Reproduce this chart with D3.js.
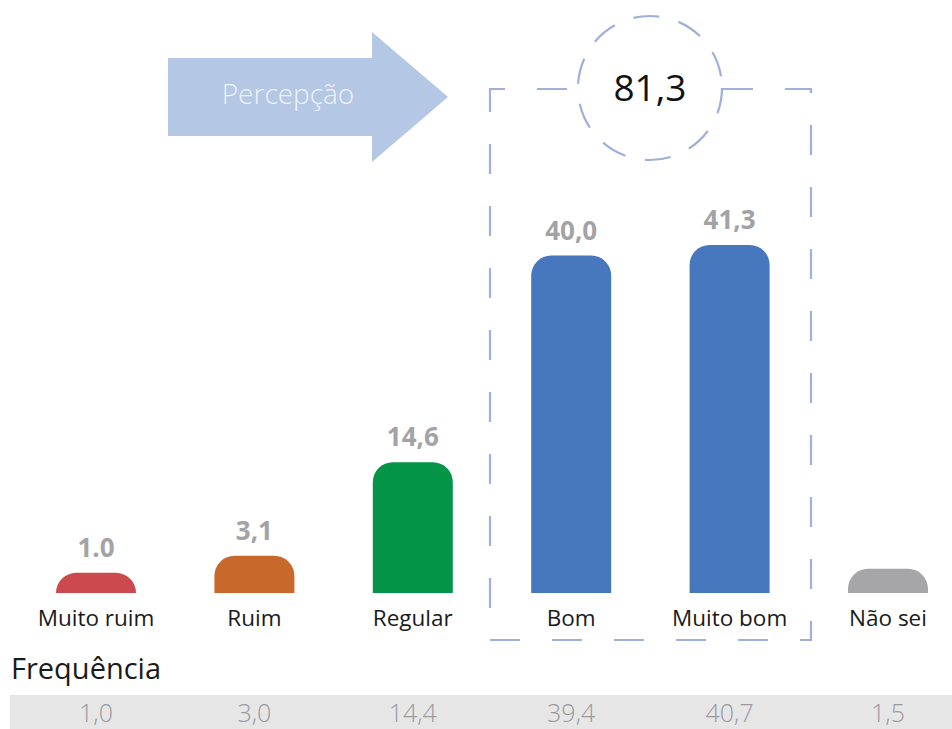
<!DOCTYPE html>
<html><head><meta charset="utf-8">
<script src="https://cdn.jsdelivr.net/npm/d3@7"></script>
<style>body{margin:0;background:#fff}svg{display:block}</style>
</head><body>
<svg id="c" width="952" height="729"></svg>
<script>
const categories = ["Muito ruim", "Ruim", "Regular", "Bom", "Muito bom", "Não sei"];
const perception = [1.0, 3.1, 14.6, 40.0, 41.3, 1.5];
const valueLabels = ["1.0", "3,1", "14,6", "40,0", "41,3", ""];
const frequency = ["1,0", "3,0", "14,4", "39,4", "40,7", "1,5"];
const colors = ["#cc4a4e", "#c8692c", "#039447", "#4777bd", "#4777bd", "#a6a6a8"];
const totalLabel = "81,3";
const arrowLabel = "Percepção";
const freqTitle = "Frequência";

const svg = d3.select("#c");
const font = "'Open Sans', 'Noto Sans', sans-serif";
const baseline = 593;
const x = d3.scalePoint().domain(categories).range([96, 888]);
const y = d3.scaleLinear().domain([0, 41.3]).range([baseline - 12, 245]);
const bw = 80;

// arrow
const arrow = svg.append("g");
arrow.append("path")
  .attr("d", "M168,58 H372 V32 L448,97 L372,162 V136 H168 Z")
  .attr("fill", "#b4c7e4");
arrow.append("text").attr("x", 288).attr("y", 104).attr("text-anchor", "middle")
  .attr("font-family", font).attr("font-size", 28).attr("font-weight", 300)
  .attr("fill", "#eef2f9").text(arrowLabel);

// dashed box
const dashCol = "#9fb0da";
const bx0 = 490, bx1 = 811, by0 = 89, by1 = 640;
svg.append("rect").attr("x", bx0).attr("y", by0).attr("width", bx1 - bx0).attr("height", by1 - by0)
  .attr("fill", "none").attr("stroke", dashCol).attr("stroke-width", 2.2)
  .attr("stroke-dasharray", "30 32").attr("stroke-dashoffset", 15);

// circle
svg.append("circle").attr("cx", 650).attr("cy", 88).attr("r", 72)
  .attr("fill", "#fff").attr("stroke", dashCol).attr("stroke-width", 2.2)
  .attr("stroke-dasharray", "26 20");
svg.append("text").attr("x", 650).attr("y", 101).attr("text-anchor", "middle")
  .attr("font-family", font).attr("font-size", 37).attr("fill", "#111").text(totalLabel);

// bars
function barPath(cx, top) {
  const h = baseline - top;
  const r = Math.min(20, h);
  const l = cx - bw / 2, rr = cx + bw / 2;
  return `M${l},${baseline} V${top + r} A${r},${r} 0 0 1 ${l + r},${top} H${rr - r} A${r},${r} 0 0 1 ${rr},${top + r} V${baseline} Z`;
}
const data = categories.map((c, i) => ({c, v: perception[i], lab: valueLabels[i], f: frequency[i], col: colors[i]}));
svg.append("g").selectAll("path").data(data).join("path")
  .attr("d", d => barPath(x(d.c), y(d.v)))
  .attr("fill", d => d.col);

svg.append("g").selectAll("text").data(data).join("text")
  .attr("x", d => x(d.c)).attr("y", d => y(d.v) - 16)
  .attr("text-anchor", "middle").attr("font-family", font).attr("font-size", 26)
  .attr("font-weight", 700).attr("fill", "#a3a3a5").text(d => d.lab);

// category axis labels
svg.append("g").selectAll("text").data(data).join("text")
  .attr("x", d => x(d.c)).attr("y", 626)
  .attr("text-anchor", "middle").attr("font-family", font).attr("font-size", 22.5)
  .attr("fill", "#1a1a1a").text(d => d.c);

// frequency
svg.append("text").attr("x", 11).attr("y", 679).attr("font-family", font).attr("font-size", 29)
  .attr("fill", "#1a1a1a").text(freqTitle);
svg.append("rect").attr("x", 10).attr("y", 695).attr("width", 942).attr("height", 34).attr("fill", "#e6e6e7");
svg.append("g").selectAll("text").data(data).join("text")
  .attr("x", d => x(d.c)).attr("y", 722)
  .attr("text-anchor", "middle").attr("font-family", font).attr("font-size", 25).attr("font-weight", 300)
  .attr("fill", "#9a9a9c").text(d => d.f);
</script>
</body></html>
